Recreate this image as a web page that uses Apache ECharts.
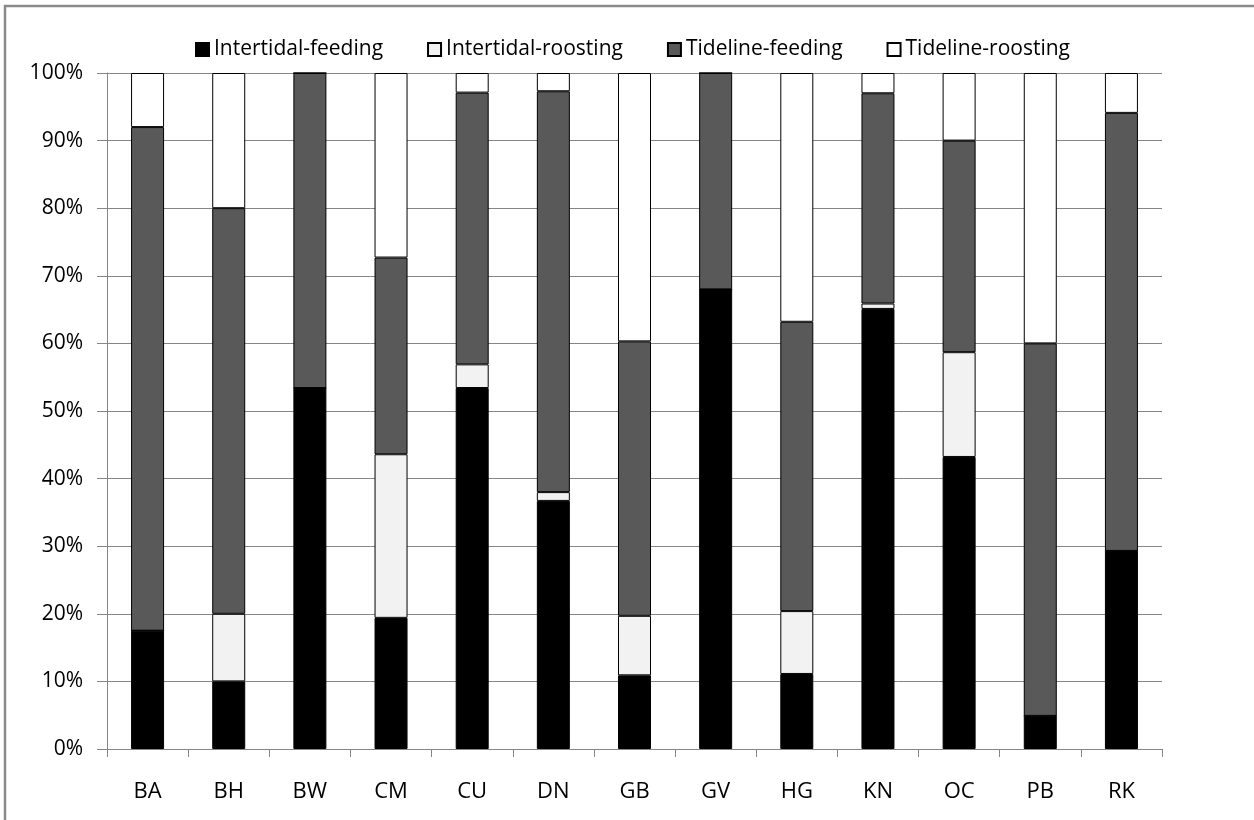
<!DOCTYPE html>
<html>
<head>
<meta charset="utf-8">
<script src="https://cdn.jsdelivr.net/npm/echarts@6/dist/echarts.min.js"></script>
<style>
html,body{margin:0;padding:0;background:#fff;}
#chart{width:1254px;height:820px;}
</style>
</head>
<body>
<div id="chart"></div>
<script>
var categories = ['BA','BH','BW','CM','CU','DN','GB','GV','HG','KN','OC','PB','RK'];
var intertidalFeeding  = [17.5, 10.0, 53.4, 19.4, 53.4, 36.7, 10.9, 68.0, 11.1, 65.1, 43.2, 4.9, 29.3];
var intertidalRoosting = [0, 10.0, 0, 24.2, 3.5, 1.3, 8.8, 0, 9.3, 0.8, 15.5, 0, 0];
var tidelineFeeding    = [74.5, 60.0, 46.6, 29.1, 40.2, 59.3, 40.6, 32.0, 42.8, 31.1, 31.3, 55.1, 64.8];
var tidelineRoosting   = [8.0, 20.0, 0, 27.3, 2.9, 2.7, 39.7, 0, 36.8, 3.0, 10.0, 40.0, 5.9];
var seriesNames = ['Intertidal-feeding','Intertidal-roosting','Tideline-feeding','Tideline-roosting'];
var yTicks = [0,10,20,30,40,50,60,70,80,90,100];

var FONT = 'Open Sans';
var colors = ['#000000','#f2f2f2','#595959','#ffffff'];
var datasets = [intertidalFeeding, intertidalRoosting, tidelineFeeding, tidelineRoosting];

var chart = echarts.init(document.getElementById('chart'), null, {renderer:'canvas'});
var series = seriesNames.map(function(n,i){
  return {
    name: n,
    type: 'bar',
    stack: 'total',
    barWidth: 33,
    data: datasets[i],
    itemStyle: {color: colors[i], borderColor: '#000', borderWidth: 1},
    emphasis: {disabled: true}
  };
});

chart.setOption({
  animation: false,
  backgroundColor: '#fff',
  graphic: [{
    type: 'rect',
    shape: {x: 5, y: 6, width: 1400, height: 1000},
    style: {fill: 'none', stroke: '#8a8a8a', lineWidth: 2.5},
    silent: true
  }],
  legend: {
    left: 190,
    top: 34,
    itemWidth: 13,
    itemHeight: 13,
    itemGap: 44,
    icon: 'rect',
    textStyle: {fontFamily: FONT, fontSize: 21, color: '#000', padding: [0,0,0,0]},
    data: seriesNames
  },
  grid: {left: 107, right: 92, top: 73, bottom: 71, containLabel: false},
  xAxis: {
    type: 'category',
    data: categories,
    boundaryGap: true,
    axisLine: {lineStyle: {color: '#868686', width: 1}},
    axisTick: {show: true, length: 8, inside: false, alignWithLabel: false, lineStyle: {color: '#868686'}},
    axisLabel: {fontFamily: FONT, fontSize: 22, color: '#000', margin: 32}
  },
  yAxis: {
    type: 'value',
    min: 0,
    max: 100,
    interval: 10,
    axisLine: {show: true, lineStyle: {color: '#868686', width: 1}},
    axisTick: {show: true, length: 10, lineStyle: {color: '#868686'}},
    splitLine: {show: true, lineStyle: {color: '#868686', width: 1}},
    axisLabel: {fontFamily: FONT, fontSize: 21, color: '#000', margin: 24,
      formatter: function(v){ return yTicks.indexOf(v) >= 0 ? v + '%' : ''; }}
  },
  series: series
});
</script>
</body>
</html>
